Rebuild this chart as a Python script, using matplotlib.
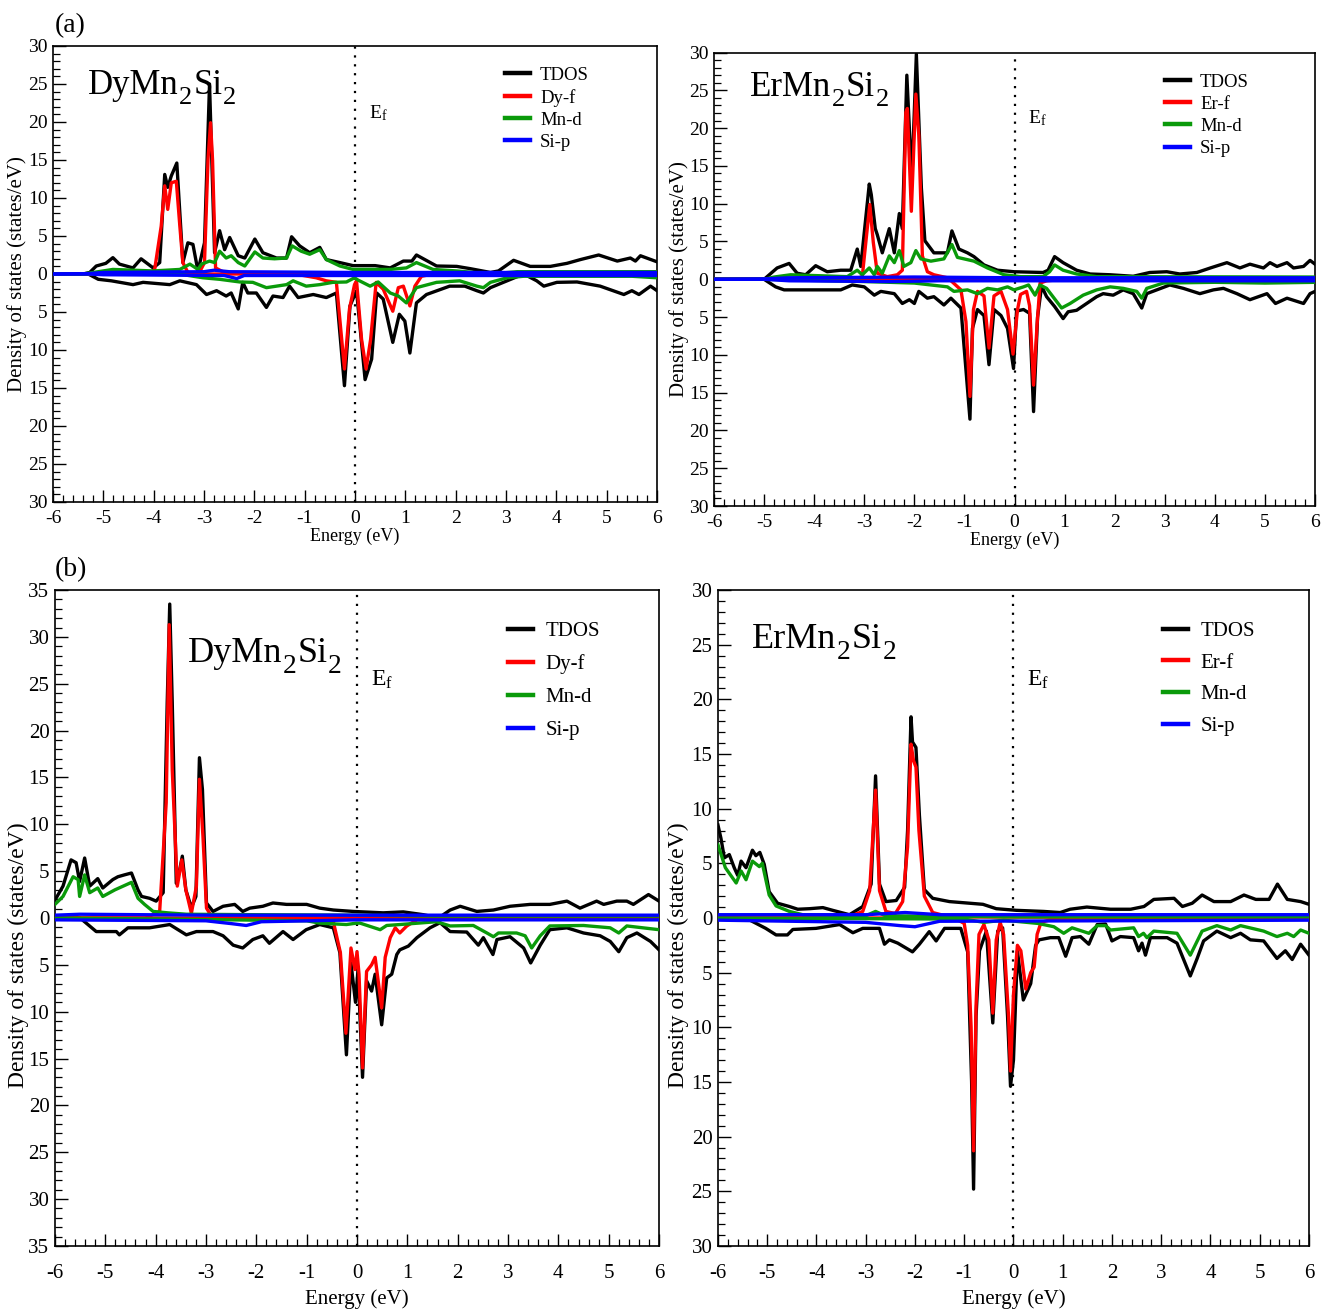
import numpy as np
import matplotlib
matplotlib.use("Agg")
import matplotlib.pyplot as plt
from matplotlib.ticker import MultipleLocator, FuncFormatter

plt.rcParams['font.family'] = ['Liberation Serif', 'DejaVu Serif']
plt.rcParams['mathtext.fontset'] = 'custom'
plt.rcParams['mathtext.rm'] = 'Liberation Serif'
plt.rcParams['mathtext.it'] = 'Liberation Serif:italic'

# ---------------- Panel (a) DyMn2Si2 ----------------
a_dy_tdos_up = [(-6,0.0),(-5.4,0.0),(-5.27,0.2),(-5.14,1.05),(-4.95,1.4),(-4.81,2.15),(-4.68,1.3),(-4.41,0.8),(-4.25,2.0),(-4.01,0.8),(-3.88,1.5),(-3.78,13.1),(-3.72,11.4),(-3.65,12.9),(-3.54,14.6),(-3.42,1.5),(-3.32,4.1),(-3.22,3.9),(-3.12,0.4),(-2.99,4.1),(-2.89,25.0),(-2.79,2.8),(-2.69,5.7),(-2.59,3.2),(-2.49,4.8),(-2.32,2.4),(-2.19,2.1),(-1.99,4.6),(-1.83,2.8),(-1.56,2.1),(-1.36,2.1),(-1.26,4.9),(-1.1,3.7),(-0.9,2.8),(-0.7,3.5),(-0.57,1.9),(-0.30,1.5),(-0.04,1.1),(0.40,1.1),(0.70,0.8),(0.96,1.7),(1.13,1.7),(1.22,2.5),(1.62,1.05),(2.02,1.0),(2.29,0.7),(2.69,0.2),(2.85,0.4),(3.15,1.8),(3.48,1.0),(3.88,1.0),(4.21,1.4),(4.48,1.9),(4.84,2.5),(5.21,1.7),(5.47,2.1),(5.57,1.7),(5.67,2.4),(6.0,1.6)]
a_dy_tdos_dn = [(-6,0),(-5.3,0),(-5.1,-0.7),(-4.84,-0.9),(-4.41,-1.4),(-4.21,-1.1),(-3.68,-1.4),(-3.48,-0.9),(-3.15,-1.4),(-2.95,-2.7),(-2.75,-2.2),(-2.56,-2.9),(-2.46,-2.5),(-2.32,-4.6),(-2.23,-1.1),(-2.13,-2.5),(-1.96,-2.5),(-1.76,-4.4),(-1.63,-2.9),(-1.43,-3.1),(-1.30,-1.6),(-1.13,-3.1),(-0.83,-2.7),(-0.57,-3.1),(-0.37,-2.5),(-0.21,-14.7),(-0.10,-4.2),(0.03,-2.2),(0.20,-13.9),(0.33,-11.2),(0.43,-2.5),(0.56,-3.3),(0.75,-9.0),(0.88,-5.3),(0.99,-6.2),(1.09,-10.4),(1.22,-3.8),(1.42,-2.7),(1.88,-1.6),(2.18,-1.6),(2.42,-2.2),(2.55,-2.5),(2.69,-1.8),(3.02,-0.9),(3.35,0.0),(3.61,-0.9),(3.75,-1.6),(4.01,-1.1),(4.41,-1.05),(4.87,-1.6),(5.34,-2.7),(5.50,-2.2),(5.64,-2.7),(5.87,-1.6),(6.0,-2.2)]
a_dy_f_up = [(-6,0),(-4.1,0),(-3.98,0.6),(-3.85,6.3),(-3.78,11.6),(-3.72,8.5),(-3.65,12.0),(-3.55,12.2),(-3.48,6.3),(-3.42,1.5),(-3.32,0.2),(-3.1,0.1),(-2.99,1.5),(-2.92,15.1),(-2.87,19.9),(-2.83,15.0),(-2.77,0.8),(-2.6,0.2),(-2.0,0.05),(6,0)]
a_dy_f_dn = [(-6,0),(-1.2,0),(-0.77,-0.5),(-0.57,-0.9),(-0.37,-1.1),(-0.29,-6.8),(-0.21,-12.5),(-0.11,-4.6),(-0.01,-1.4),(0.03,-0.9),(0.13,-8.6),(0.22,-12.5),(0.31,-8.6),(0.42,-1.1),(0.56,-2.0),(0.75,-4.9),(0.86,-1.8),(0.96,-1.6),(1.09,-4.2),(1.19,-1.6),(1.32,-0.3),(1.55,0),(6,0)]
a_dy_mn_up = [(-6,0),(-5.4,0.0),(-5.1,0.3),(-4.81,0.6),(-4.01,0.4),(-3.48,0.6),(-3.28,1.3),(-3.12,0.6),(-3.05,1.3),(-2.89,1.7),(-2.79,1.5),(-2.69,3.0),(-2.56,2.1),(-2.46,2.4),(-2.32,1.5),(-2.19,1.05),(-1.99,2.9),(-1.83,2.1),(-1.60,2.0),(-1.36,2.1),(-1.25,3.7),(-1.07,3.0),(-0.90,2.6),(-0.70,3.2),(-0.57,1.9),(-0.30,1.05),(-0.04,0.6),(0.70,0.6),(1.02,0.8),(1.22,1.5),(1.55,0.6),(2.02,0.4),(2.69,0.0),(3.22,0.3),(6.0,0.3)]
a_dy_mn_dn = [(-6,0),(-3.5,0),(-3.02,-0.5),(-2.69,-0.7),(-2.29,-1.05),(-2.03,-1.1),(-1.76,-1.8),(-1.36,-1.4),(-1.23,-0.9),(-0.97,-1.6),(-0.70,-1.4),(-0.44,-1.1),(-0.17,-1.05),(-0.01,-0.5),(0.06,-0.8),(0.30,-1.6),(0.46,-1.05),(0.70,-2.5),(0.86,-2.9),(1.02,-3.8),(1.22,-1.8),(1.62,-1.1),(2.08,-0.9),(2.42,-1.6),(2.55,-1.8),(2.69,-1.1),(3.02,-0.5),(3.35,-0.3),(5.5,-0.3),(6.0,-0.5)]
a_dy_si_up = [(-6,0),(-5.3,0.05),(-5.0,0.2),(-3.0,0.3),(-2.8,0.5),(-2.5,0.3),(0,0.2),(6,0.2)]
a_dy_si_dn = [(-6,0),(-5.3,0),(-5.0,-0.1),(-2.6,-0.2),(-2.35,-0.6),(-2.2,-0.2),(6,-0.2)]

# ---------------- Panel (a) ErMn2Si2 ----------------
a_er_tdos_up = [(-6,0),(-5.0,0),(-4.74,1.5),(-4.50,2.1),(-4.34,0.8),(-4.17,0.6),(-3.97,1.8),(-3.74,1.0),(-3.47,1.2),(-3.27,1.2),(-3.14,4.0),(-3.07,1.7),(-2.90,12.6),(-2.86,11.2),(-2.78,6.7),(-2.74,5.9),(-2.64,3.5),(-2.50,6.7),(-2.40,3.5),(-2.30,8.7),(-2.24,6.7),(-2.15,27.0),(-2.05,13.0),(-1.96,29.8),(-1.86,12.1),(-1.79,5.1),(-1.61,3.5),(-1.34,3.5),(-1.25,6.4),(-1.11,4.0),(-0.94,3.5),(-0.81,3.0),(-0.61,1.9),(-0.34,1.2),(-0.01,1.0),(0.57,0.9),(0.67,1.2),(0.80,3.0),(0.97,2.2),(1.24,1.2),(1.51,0.7),(1.91,0.6),(2.37,0.4),(2.70,0.9),(3.04,1.0),(3.30,0.7),(3.64,0.9),(3.91,1.5),(4.24,2.2),(4.50,1.5),(4.70,2.0),(4.97,1.5),(5.10,2.2),(5.24,1.7),(5.44,2.2),(5.57,1.5),(5.77,1.7),(5.90,2.5),(6.0,2.0)]
a_er_tdos_dn = [(-6,0),(-5.0,0),(-4.77,-1.0),(-4.60,-1.4),(-4.0,-1.4),(-3.47,-1.4),(-3.24,-0.75),(-3.0,-1.0),(-2.80,-2.1),(-2.67,-1.6),(-2.40,-1.9),(-2.24,-3.2),(-2.10,-2.7),(-2.0,-3.2),(-1.91,-1.6),(-1.74,-2.5),(-1.61,-2.3),(-1.41,-3.4),(-1.27,-2.5),(-1.07,-3.8),(-0.89,-18.5),(-0.84,-6.5),(-0.74,-4.0),(-0.61,-4.8),(-0.51,-11.3),(-0.41,-4.0),(-0.27,-4.8),(-0.14,-6.5),(-0.02,-11.8),(0.04,-4.2),(0.18,-4.0),(0.30,-4.5),(0.38,-17.5),(0.46,-5.0),(0.54,-0.9),(0.64,-2.3),(0.80,-3.6),(0.97,-5.2),(1.07,-4.3),(1.24,-4.1),(1.44,-3.2),(1.64,-2.3),(1.77,-1.9),(1.97,-2.1),(2.17,-1.4),(2.37,-1.9),(2.54,-3.8),(2.64,-1.9),(2.84,-1.4),(3.10,-0.75),(3.37,-1.2),(3.70,-1.9),(3.97,-1.4),(4.17,-1.2),(4.44,-1.9),(4.70,-2.7),(5.04,-1.9),(5.21,-3.2),(5.44,-2.5),(5.77,-3.2),(5.90,-1.9),(6.0,-1.6)]
a_er_f_up = [(-6,0),(-3.2,0),(-3.04,0.35),(-2.95,6.1),(-2.89,9.9),(-2.82,4.9),(-2.74,0.8),(-2.54,0.35),(-2.34,0.6),(-2.24,1.2),(-2.17,22.1),(-2.14,22.6),(-2.06,9.0),(-1.97,24.5),(-1.91,19.0),(-1.84,3.1),(-1.74,1.0),(-1.61,0.6),(-1.34,0.2),(-1.0,0.0),(6,0)]
a_er_f_dn = [(-6,0),(-1.3,0),(-1.07,-1.4),(-0.97,-5.6),(-0.89,-15.5),(-0.82,-4.0),(-0.74,-1.6),(-0.61,-2.2),(-0.51,-9.1),(-0.41,-2.2),(-0.27,-1.6),(-0.14,-4.0),(-0.03,-9.9),(0.06,-4.0),(0.12,-2.0),(0.24,-1.6),(0.30,-3.5),(0.38,-14.0),(0.45,-6.0),(0.51,-0.5),(0.64,-0.2),(1.0,0),(6,0)]
a_er_mn_up = [(-6,0),(-5.0,0),(-4.8,0.3),(-4.47,0.6),(-3.34,0.35),(-3.14,1.2),(-3.04,0.6),(-2.90,1.5),(-2.80,0.6),(-2.74,1.7),(-2.64,0.8),(-2.50,3.1),(-2.40,2.2),(-2.30,3.8),(-2.21,1.7),(-2.07,2.2),(-1.97,3.8),(-1.87,2.7),(-1.67,2.4),(-1.41,2.7),(-1.25,4.6),(-1.14,2.9),(-0.81,2.4),(-0.54,1.5),(-0.21,0.6),(0.12,0.35),(0.57,0.35),(0.70,1.0),(0.80,1.9),(0.97,1.2),(1.24,0.7),(1.64,0.35),(6,0.3)]
a_er_mn_dn = [(-6,0),(-5.0,0),(-3.0,-0.3),(-2.0,-0.5),(-1.34,-1.0),(-1.21,-1.6),(-0.94,-1.4),(-0.74,-1.9),(-0.54,-1.2),(-0.34,-1.4),(-0.14,-1.0),(-0.01,-1.4),(0.18,-1.0),(0.28,-0.75),(0.41,-2.1),(0.51,-0.75),(0.64,-1.2),(0.94,-3.8),(1.11,-3.2),(1.37,-2.1),(1.64,-1.4),(1.91,-1.0),(2.17,-1.2),(2.44,-1.6),(2.54,-2.5),(2.64,-1.2),(2.97,-0.5),(4.0,-0.4),(5.0,-0.5),(6,-0.4)]
a_er_si_up = [(-6,0),(-5.0,0.05),(-4.5,0.2),(-2.0,0.3),(0,0.2),(6,0.2)]
a_er_si_dn = [(-6,0),(-5.0,0),(-4.5,-0.2),(-2.5,-0.3),(-1.5,-0.2),(6,-0.2)]

# ---------------- Panel (b) DyMn2Si2 ----------------
b_dy_tdos_up = [(-6.0,1.9),(-5.84,3.4),(-5.68,6.2),(-5.58,5.9),(-5.51,3.9),(-5.41,6.4),(-5.31,3.4),(-5.15,4.2),(-5.05,3.2),(-4.85,4.1),(-4.75,4.4),(-4.62,4.6),(-4.48,4.8),(-4.35,3.0),(-4.28,2.3),(-4.12,2.1),(-3.99,1.8),(-3.85,2.7),(-3.77,23.0),(-3.72,33.5),(-3.67,23.0),(-3.59,3.7),(-3.52,5.2),(-3.47,6.6),(-3.40,3.0),(-3.29,1.1),(-3.20,2.3),(-3.13,17.1),(-3.07,13.7),(-2.99,1.6),(-2.86,0.7),(-2.66,1.25),(-2.43,1.45),(-2.27,0.7),(-2.13,1.05),(-1.87,1.25),(-1.67,1.6),(-1.40,1.45),(-1.00,1.45),(-0.74,1.05),(-0.47,0.85),(-0.08,0.7),(0.52,0.55),(0.92,0.65),(1.32,0.35),(1.62,0.0),(1.85,0.85),(2.05,1.25),(2.38,0.7),(2.71,0.85),(3.04,1.25),(3.44,1.45),(3.83,1.45),(4.17,1.8),(4.43,1.05),(4.76,1.8),(4.90,1.45),(5.16,1.8),(5.36,1.8),(5.49,1.45),(5.79,2.5),(6.0,1.8)]
b_dy_tdos_dn = [(-6,0),(-5.5,0),(-5.18,-1.45),(-4.78,-1.45),(-4.72,-1.8),(-4.55,-1.05),(-4.12,-1.05),(-3.72,-0.7),(-3.39,-1.8),(-3.19,-1.45),(-2.86,-1.45),(-2.66,-1.9),(-2.46,-2.9),(-2.27,-3.2),(-2.07,-2.3),(-1.87,-1.9),(-1.74,-2.7),(-1.47,-1.45),(-1.27,-2.3),(-1.01,-1.25),(-0.74,-0.7),(-0.47,-1.05),(-0.34,-3.7),(-0.21,-14.6),(-0.12,-4.8),(-0.03,-9.0),(0.02,-5.5),(0.11,-17.0),(0.19,-6.7),(0.29,-7.8),(0.36,-6.0),(0.49,-11.4),(0.59,-6.4),(0.69,-6.0),(0.79,-3.9),(0.85,-3.4),(1.02,-3.0),(1.19,-2.1),(1.45,-1.05),(1.65,-0.5),(1.85,-1.45),(2.18,-1.5),(2.41,-2.9),(2.51,-2.1),(2.70,-3.9),(2.78,-2.3),(3.04,-2.0),(3.31,-3.2),(3.45,-4.8),(3.64,-2.9),(3.83,-1.25),(4.17,-1.05),(4.50,-1.6),(4.83,-1.9),(5.03,-2.5),(5.20,-3.6),(5.36,-2.1),(5.56,-1.6),(5.83,-2.5),(6.0,-3.4)]
b_dy_f_up = [(-6,0),(-4.2,0),(-3.92,0.7),(-3.79,12.3),(-3.73,31.3),(-3.67,15.8),(-3.57,3.4),(-3.48,6.2),(-3.40,3.0),(-3.29,0.5),(-3.19,3.4),(-3.13,14.8),(-3.06,8.7),(-2.99,1.05),(-2.89,0.2),(-2.5,0),(6,0)]
b_dy_f_dn = [(-6,0),(-0.8,0),(-0.47,-0.4),(-0.33,-3.7),(-0.22,-12.3),(-0.12,-3.2),(-0.04,-5.5),(0.0,-3.6),(0.04,-6.0),(0.11,-16.0),(0.19,-5.7),(0.29,-5.0),(0.36,-4.2),(0.49,-9.6),(0.56,-4.2),(0.66,-2.1),(0.76,-1.05),(0.85,-1.6),(0.99,-0.85),(1.19,-0.2),(1.5,0),(6,0)]
b_dy_mn_up = [(-6.0,1.45),(-5.84,2.3),(-5.64,4.4),(-5.54,4.1),(-5.51,2.3),(-5.41,4.6),(-5.31,2.7),(-5.15,3.2),(-5.05,2.3),(-4.81,3.0),(-4.48,3.8),(-4.35,2.1),(-4.22,1.45),(-4.05,0.7),(-3.76,0.55),(-3.39,0.4),(-2.0,0.35),(0,0.3),(1.5,0.2),(6,0.2)]
b_dy_mn_dn = [(-6,0),(-4,-0.1),(-1.0,-0.3),(-0.74,-0.55),(-0.21,-0.7),(-0.01,-0.55),(0.06,-0.55),(0.46,-1.25),(0.59,-0.8),(0.85,-0.7),(1.58,-0.4),(1.85,-0.85),(2.31,-0.8),(2.58,-1.6),(2.71,-2.0),(2.81,-1.6),(3.17,-1.6),(3.34,-1.9),(3.47,-3.2),(3.64,-1.9),(3.83,-0.85),(4.50,-0.8),(5.03,-1.05),(5.20,-1.6),(5.36,-0.85),(6.0,-1.25)]
b_dy_si_up = [(-6,0.3),(-5.5,0.4),(-3,0.3),(0,0.3),(6,0.3)]
b_dy_si_dn = [(-6,-0.2),(-3,-0.3),(-2.5,-0.6),(-2.2,-0.8),(-1.9,-0.4),(0,-0.2),(6,-0.2)]

# ---------------- Panel (b) ErMn2Si2 ----------------
b_er_tdos_up = [(-6.0,8.5),(-5.94,7.3),(-5.87,5.5),(-5.77,5.8),(-5.67,4.6),(-5.60,3.9),(-5.53,5.2),(-5.43,4.6),(-5.30,6.2),(-5.23,5.7),(-5.15,6.0),(-5.06,4.9),(-4.96,2.4),(-4.79,1.35),(-4.55,1.05),(-4.38,0.8),(-4.14,0.85),(-3.87,0.95),(-3.67,0.7),(-3.33,0.3),(-3.06,1.05),(-2.89,3.1),(-2.80,13.0),(-2.72,3.1),(-2.59,1.5),(-2.38,1.6),(-2.21,2.8),(-2.15,8.0),(-2.08,18.4),(-2.05,16.1),(-1.98,15.6),(-1.91,9.4),(-1.81,2.6),(-1.64,1.8),(-1.30,1.5),(-0.89,1.35),(-0.62,1.25),(-0.35,0.85),(0.06,0.7),(0.61,0.6),(0.95,0.5),(1.15,0.8),(1.49,1.0),(1.97,0.8),(2.38,0.8),(2.65,1.05),(2.85,1.7),(3.26,1.8),(3.43,1.05),(3.63,1.35),(3.83,2.1),(4.07,1.5),(4.41,1.5),(4.68,2.1),(4.92,1.7),(5.19,1.7),(5.36,3.1),(5.56,1.7),(5.83,1.5),(6.0,1.25)]
b_er_tdos_dn = [(-6,0),(-5.6,0),(-5.35,-0.2),(-5.03,-0.95),(-4.82,-1.55),(-4.59,-1.55),(-4.48,-1.05),(-4.01,-0.95),(-3.53,-0.6),(-3.26,-1.35),(-3.06,-0.95),(-2.72,-0.95),(-2.62,-2.4),(-2.52,-2.0),(-2.35,-2.3),(-2.05,-3.1),(-1.91,-2.4),(-1.71,-1.25),(-1.57,-2.1),(-1.40,-0.95),(-1.07,-0.95),(-0.93,-3.1),(-0.85,-15.0),(-0.81,-24.8),(-0.76,-9.0),(-0.69,-3.0),(-0.55,-1.2),(-0.42,-9.6),(-0.32,-1.2),(-0.22,-0.9),(-0.12,-9.0),(-0.06,-15.4),(0.0,-13.0),(0.08,-3.0),(0.2,-7.5),(0.35,-6.0),(0.45,-2.5),(0.52,-2.0),(0.75,-1.8),(0.92,-1.8),(1.06,-3.5),(1.19,-1.8),(1.36,-1.7),(1.53,-2.4),(1.70,-0.6),(1.87,-0.55),(2.00,-2.1),(2.17,-1.7),(2.44,-1.8),(2.54,-3.0),(2.61,-2.3),(2.68,-3.4),(2.78,-1.8),(3.12,-1.8),(3.32,-2.3),(3.59,-5.3),(3.73,-3.7),(3.86,-2.1),(4.13,-1.2),(4.41,-1.8),(4.61,-1.4),(4.81,-2.0),(5.08,-2.1),(5.35,-3.7),(5.52,-3.0),(5.66,-3.8),(5.83,-2.4),(6.0,-3.4)]
b_er_f_up = [(-6,0),(-3.4,0),(-3.06,0.6),(-2.92,2.5),(-2.80,11.7),(-2.72,2.5),(-2.59,0.6),(-2.40,0.4),(-2.25,1.5),(-2.15,6.5),(-2.08,15.9),(-2.03,14.4),(-1.98,13.8),(-1.92,8.0),(-1.81,2.0),(-1.64,0.5),(-1.3,0.1),(6,0)]
b_er_f_dn = [(-6,0),(-1.2,0),(-1.0,-0.5),(-0.93,-2.5),(-0.86,-10.0),(-0.81,-21.3),(-0.76,-8.0),(-0.70,-1.5),(-0.60,-0.6),(-0.50,-2.0),(-0.42,-8.7),(-0.35,-2.0),(-0.27,-0.4),(-0.20,-1.5),(-0.10,-9.0),(-0.06,-14.0),(0.0,-7.0),(0.08,-2.5),(0.15,-3.0),(0.25,-6.5),(0.35,-5.0),(0.42,-4.5),(0.48,-1.5),(0.56,-0.4),(0.8,-0.1),(6,0)]
b_er_mn_up = [(-6.0,6.7),(-5.85,4.6),(-5.63,3.2),(-5.53,4.3),(-5.43,3.5),(-5.30,5.2),(-5.16,4.7),(-5.10,5.0),(-4.96,2.1),(-4.82,1.1),(-4.55,0.6),(-4.28,0.3),(-3.0,0.2),(-2.8,0.6),(-2.6,0.2),(0,0.1),(6,0.1)]
b_er_mn_dn = [(-6,0),(-1.0,-0.1),(-0.6,-0.4),(-0.2,-0.2),(0.5,-0.5),(0.82,-0.8),(1.02,-1.4),(1.19,-0.9),(1.53,-1.4),(1.70,-0.7),(1.87,-0.7),(1.97,-1.1),(2.44,-0.9),(2.54,-1.7),(2.64,-1.4),(2.71,-1.8),(2.85,-1.2),(3.32,-1.4),(3.59,-3.4),(3.83,-1.2),(4.13,-0.7),(4.41,-1.1),(4.61,-0.7),(5.08,-1.2),(5.35,-1.7),(5.56,-1.4),(5.69,-1.7),(5.83,-1.1),(6.0,-1.4)]
b_er_si_up = [(-6,0.3),(-3,0.3),(-2.2,0.5),(-1.5,0.3),(6,0.3)]
b_er_si_dn = [(-6,-0.2),(-4.5,-0.3),(-3.0,-0.4),(-2.3,-0.7),(-2.0,-0.8),(-1.5,-0.3),(6,-0.2)]

legend_labels_dy = ["TDOS", "Dy-f", "Mn-d", "Si-p"]
legend_labels_er = ["TDOS", "Er-f", "Mn-d", "Si-p"]
name_dy = [("DyMn", False), ("2", True), ("Si", False), ("2", True)]
name_er = [("ErMn", False), ("2", True), ("Si", False), ("2", True)]
x_ticks = [-6, -5, -4, -3, -2, -1, 0, 1, 2, 3, 4, 5, 6]

BLACK, RED, GREEN, BLUE = "#000000", "#ff0000", "#0a9a0a", "#0000ff"

fig = plt.figure(figsize=(13.21, 13.10), dpi=100)


def xy(lst):
    a = np.array(lst, dtype=float)
    return a[:, 0], a[:, 1]


def compound(ax, x, y, parts, fs):
    prev = None
    for txt, sub in parts:
        size = fs * 0.76 if sub else fs
        dy = -fs * 0.30 if sub else 0.0
        if prev is None:
            t = ax.text(x, y, txt, transform=ax.transAxes, fontsize=size,
                        ha="left", va="baseline")
        else:
            t = ax.annotate(txt, xy=(1.0, y), xycoords=(prev, ax.transAxes),
                            xytext=(0.5, dy), textcoords="offset points",
                            fontsize=size, ha="left", va="baseline")
        prev = t


panels = [
    dict(rect=[0.0401, 0.6168, 0.4573, 0.3481], ylim=30, big=False,
         name=name_dy, labels=legend_labels_dy,
         data=[a_dy_tdos_up, a_dy_tdos_dn, a_dy_f_up, a_dy_f_dn, a_dy_mn_up, a_dy_mn_dn, a_dy_si_up, a_dy_si_dn],
         name_xy=(0.058, 0.895), leg_xy=(0.748, 0.955), ef_y=0.853, ylab_x=-0.043),
    dict(rect=[0.5405, 0.6137, 0.4550, 0.3462], ylim=30, big=False,
         name=name_er, labels=legend_labels_er,
         data=[a_er_tdos_up, a_er_tdos_dn, a_er_f_up, a_er_f_dn, a_er_mn_up, a_er_mn_dn, a_er_si_up, a_er_si_dn],
         name_xy=(0.06, 0.905), leg_xy=(0.750, 0.954), ef_y=0.856, ylab_x=-0.042),
    dict(rect=[0.0416, 0.0489, 0.4573, 0.5007], ylim=35, big=True,
         name=name_dy, labels=legend_labels_dy,
         data=[b_dy_tdos_up, b_dy_tdos_dn, b_dy_f_up, b_dy_f_dn, b_dy_mn_up, b_dy_mn_dn, b_dy_si_up, b_dy_si_dn],
         name_xy=(0.22, 0.890), leg_xy=(0.750, 0.952), ef_y=0.863, ylab_x=-0.043),
    dict(rect=[0.5435, 0.0489, 0.4474, 0.5007], ylim=30, big=True,
         name=name_er, labels=legend_labels_er,
         data=[b_er_tdos_up, b_er_tdos_dn, b_er_f_up, b_er_f_dn, b_er_mn_up, b_er_mn_dn, b_er_si_up, b_er_si_dn],
         name_xy=(0.058, 0.912), leg_xy=(0.753, 0.952), ef_y=0.863, ylab_x=-0.049),
]

for p in panels:
    ax = fig.add_axes(p["rect"])
    d = p["data"]
    big = p["big"]
    lw = 2.4
    cols = [BLACK, BLACK, RED, RED, GREEN, GREEN, BLUE, BLUE]
    for i, (series, c) in enumerate(zip(d, cols)):
        x, y = xy(series)
        lab = p["labels"][i // 2] if i % 2 == 0 else None
        ax.plot(x, y, color=c, lw=lw, label=lab, solid_joinstyle="round", zorder=2 + i // 2)
    ax.axvline(0, color="black", ls=(0, (1, 3)), lw=1.6, zorder=1)
    ax.set_xlim(-6, 6)
    ax.set_ylim(-p["ylim"], p["ylim"])
    ax.set_xticks(x_ticks)
    ax.xaxis.set_minor_locator(MultipleLocator(0.2))
    ax.yaxis.set_major_locator(MultipleLocator(5))
    ax.yaxis.set_minor_locator(MultipleLocator(1))
    ax.yaxis.set_major_formatter(FuncFormatter(lambda v, pos: f"{abs(v):g}"))
    ax.xaxis.set_major_formatter(FuncFormatter(lambda v, pos: f"{v:g}"))
    tfs = 14 if not big else 15
    ax.tick_params(which="major", direction="in", length=9, width=1.0, labelsize=tfs,
                   top=False, right=False)
    ax.tick_params(axis="x", which="major", pad=6 if not big else 13)
    ax.tick_params(axis="y", which="major", pad=4)
    ax.tick_params(which="minor", direction="in", length=5, width=0.9, top=False, right=False)
    for s in ax.spines.values():
        s.set_linewidth(1.2)
    ax.set_xlabel("Energy (eV)", fontsize=13 if not big else 15)
    ax.set_ylabel("Density of states (states/eV)", fontsize=15 if not big else 17)
    ax.yaxis.set_label_coords(p["ylab_x"], 0.5 if not big else 0.444)
    ax.xaxis.set_label_coords(0.5, -0.056 if not big else -0.066)
    compound(ax, p["name_xy"][0], p["name_xy"][1], p["name"], 25 if not big else 26)
    ax.text(0.27, p["ef_y"], "E$_\\mathrm{f}$", transform=ax.get_xaxis_transform(),
            fontsize=14 if not big else 17, ha="left", va="center")
    leg = ax.legend(loc="upper left", bbox_to_anchor=p["leg_xy"], frameon=False,
                    fontsize=13.5 if not big else 15,
                    handlelength=1.33 if not big else 1.2,
                    handletextpad=0.55 if not big else 0.6,
                    labelspacing=0.27 if not big else (0.64 if p["name"] is name_dy else 0.58),
                    borderpad=0, borderaxespad=0)
    for h in leg.get_lines():
        h.set_linewidth(3.2)

fig.text(55 / 1321, 1 - 26 / 1310, "(a)", fontsize=20, ha="left", va="center")
fig.text(55 / 1321, 1 - 570 / 1310, "(b)", fontsize=20, ha="left", va="center")

fig.savefig("out.png", dpi=100)
